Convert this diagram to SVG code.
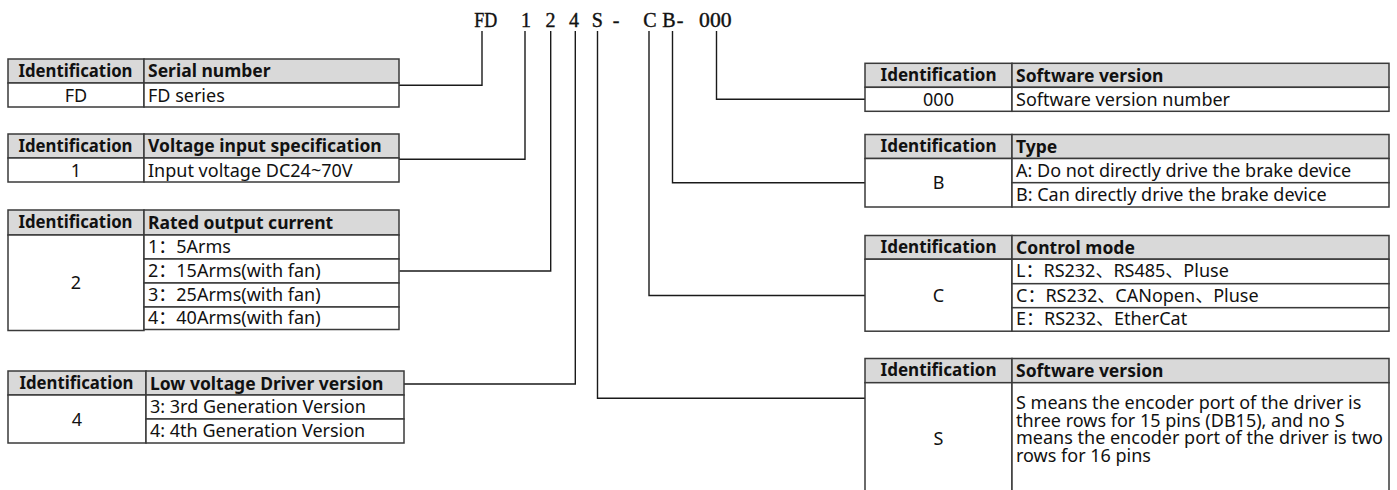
<svg xmlns="http://www.w3.org/2000/svg" width="1397" height="490" viewBox="0 0 1397 490">
<style>
.bg{fill:#fff}
.h{fill:#d9d9d9;stroke:#3a3a3a;stroke-width:1.5}
.c{fill:#fff;stroke:#3a3a3a;stroke-width:1.5}
.th{font-family:"Noto Sans","Noto Sans CJK SC",sans-serif;font-weight:bold;font-size:17.5px;fill:#111}
.td{font-family:"Noto Sans","Noto Sans CJK SC",sans-serif;font-size:18px;fill:#111}
.m{text-anchor:middle}
.code{font-family:"Liberation Serif",serif;font-size:20px;fill:#111;text-anchor:middle;stroke:#111;stroke-width:0.4}
.conn{fill:none;stroke:#1a1a1a;stroke-width:1.4}
</style>
<rect class="bg" width="1397" height="490"/>

<g id="code">
<text class="code" x="485.7" y="27" textLength="23" lengthAdjust="spacingAndGlyphs">FD</text>
<text class="code" x="526" y="27">1</text>
<text class="code" x="550.5" y="27">2</text>
<text class="code" x="574" y="27">4</text>
<text class="code" x="597.3" y="27">S</text>
<text class="code" x="616" y="27">-</text>
<text class="code" x="650" y="27">C</text>
<text class="code" x="669" y="27">B</text>
<text class="code" x="680" y="27">-</text>
<text class="code" x="715.3" y="27" textLength="32.5" lengthAdjust="spacingAndGlyphs">000</text>
</g>

<g id="connectors">
<polyline class="conn" points="482,31 482,85.3 399,85.3"/>
<polyline class="conn" points="525,31 525,159.3 399,159.3"/>
<polyline class="conn" points="550.7,31 550.7,271 399.5,271"/>
<polyline class="conn" points="575.3,31 575.3,384 404,384"/>
<polyline class="conn" points="597.5,31 597.5,398.3 865,398.3"/>
<polyline class="conn" points="649,31 649,295.5 865,295.5"/>
<polyline class="conn" points="672.5,31 672.5,182.7 865,182.7"/>
<polyline class="conn" points="716.5,31 716.5,99.3 865,99.3"/>
</g>

<g id="t-serial">
<rect class="h" x="8" y="59" width="136" height="24"/>
<rect class="h" x="144" y="59" width="255" height="24"/>
<rect class="c" x="8" y="83" width="136" height="24"/>
<rect class="c" x="144" y="83" width="255" height="24"/>
<text class="th m" x="75.5" y="76.5" textLength="114" lengthAdjust="spacingAndGlyphs">Identification</text>
<text class="th" x="148" y="77">Serial number</text>
<text class="td m" x="76" y="101.5">FD</text>
<text class="td" x="148" y="101.5">FD series</text>
</g>

<g id="t-voltage">
<rect class="h" x="8" y="134" width="136" height="24"/>
<rect class="h" x="144" y="134" width="255" height="24"/>
<rect class="c" x="8" y="158" width="136" height="24"/>
<rect class="c" x="144" y="158" width="255" height="24"/>
<text class="th m" x="75.5" y="151.5" textLength="114" lengthAdjust="spacingAndGlyphs">Identification</text>
<text class="th" x="148" y="152">Voltage input specification</text>
<text class="td m" x="76" y="176.5">1</text>
<text class="td" x="148" y="176.5">Input voltage DC24~70V</text>
</g>

<g id="t-current">
<rect class="h" x="8" y="210" width="136" height="25"/>
<rect class="h" x="144" y="210" width="255" height="25"/>
<rect class="c" x="8" y="235" width="136" height="95.5"/>
<rect class="c" x="144" y="235" width="255" height="24"/>
<rect class="c" x="144" y="259" width="255" height="24"/>
<rect class="c" x="144" y="283" width="255" height="24"/>
<rect class="c" x="144" y="307" width="255" height="22.5"/>
<text class="th m" x="75.5" y="228" textLength="114" lengthAdjust="spacingAndGlyphs">Identification</text>
<text class="th" x="148" y="228.5">Rated output current</text>
<text class="td m" x="76" y="289">2</text>
<text class="td" x="148" y="252.5">1：5Arms</text>
<text class="td" x="148" y="276.5">2：15Arms(with fan)</text>
<text class="td" x="148" y="300.5">3：25Arms(with fan)</text>
<text class="td" x="148" y="324">4：40Arms(with fan)</text>
</g>

<g id="t-driver">
<rect class="h" x="8" y="371" width="138" height="24"/>
<rect class="h" x="146" y="371" width="258" height="24"/>
<rect class="c" x="8" y="395" width="138" height="48"/>
<rect class="c" x="146" y="395" width="258" height="24"/>
<rect class="c" x="146" y="419" width="258" height="24"/>
<text class="th m" x="76.5" y="388.5" textLength="114" lengthAdjust="spacingAndGlyphs">Identification</text>
<text class="th" x="150" y="389.5">Low voltage Driver version</text>
<text class="td m" x="77" y="425.5">4</text>
<text class="td" x="150" y="412.5">3: 3rd Generation Version</text>
<text class="td" x="150" y="436.5">4: 4th Generation Version</text>
</g>

<g id="t-software">
<rect class="h" x="865" y="63.3" width="147" height="24"/>
<rect class="h" x="1012" y="63.3" width="377" height="24"/>
<rect class="c" x="865" y="87.3" width="147" height="24"/>
<rect class="c" x="1012" y="87.3" width="377" height="24"/>
<text class="th m" x="938.5" y="81" textLength="116" lengthAdjust="spacingAndGlyphs">Identification</text>
<text class="th" x="1016" y="81.5">Software version</text>
<text class="td m" x="938.5" y="105.5">000</text>
<text class="td" x="1016" y="105.5">Software version number</text>
</g>

<g id="t-type">
<rect class="h" x="865" y="134.5" width="147" height="24"/>
<rect class="h" x="1012" y="134.5" width="377" height="24"/>
<rect class="c" x="865" y="158.5" width="147" height="48.5"/>
<rect class="c" x="1012" y="158.5" width="377" height="24.2"/>
<rect class="c" x="1012" y="182.7" width="377" height="24.3"/>
<text class="th m" x="938.5" y="152" textLength="116" lengthAdjust="spacingAndGlyphs">Identification</text>
<text class="th" x="1016" y="153">Type</text>
<text class="td m" x="938.5" y="189">B</text>
<text class="td" x="1016" y="176.5">A: Do not directly drive the brake device</text>
<text class="td" x="1016" y="200.5">B: Can directly drive the brake device</text>
</g>

<g id="t-control">
<rect class="h" x="865" y="235.5" width="147" height="23.7"/>
<rect class="h" x="1012" y="235.5" width="377" height="23.7"/>
<rect class="c" x="865" y="259.2" width="147" height="72"/>
<rect class="c" x="1012" y="259.2" width="377" height="24.5"/>
<rect class="c" x="1012" y="283.7" width="377" height="24"/>
<rect class="c" x="1012" y="307.7" width="377" height="23.5"/>
<text class="th m" x="938.5" y="253" textLength="116" lengthAdjust="spacingAndGlyphs">Identification</text>
<text class="th" x="1016" y="253.5">Control mode</text>
<text class="td m" x="938.5" y="301.5">C</text>
<text class="td" x="1016" y="277">L：RS232、RS485、Pluse</text>
<text class="td" x="1016" y="301.5">C：RS232、CANopen、Pluse</text>
<text class="td" x="1016" y="325">E：RS232、EtherCat</text>
</g>

<g id="t-encoder">
<rect class="h" x="865" y="358.5" width="147" height="24.2"/>
<rect class="h" x="1012" y="358.5" width="377" height="24.2"/>
<rect class="c" x="865" y="382.7" width="147" height="120"/>
<rect class="c" x="1012" y="382.7" width="377" height="120"/>
<text class="th m" x="938.5" y="376" textLength="116" lengthAdjust="spacingAndGlyphs">Identification</text>
<text class="th" x="1016" y="376.5">Software version</text>
<text class="td m" x="938.5" y="444.5">S</text>
<text class="td" x="1016" y="409">S means the encoder port of the driver is</text>
<text class="td" x="1016" y="426.5">three rows for 15 pins (DB15), and no S</text>
<text class="td" x="1016" y="444">means the encoder port of the driver is two</text>
<text class="td" x="1016" y="461.5">rows for 16 pins</text>
</g>
</svg>
